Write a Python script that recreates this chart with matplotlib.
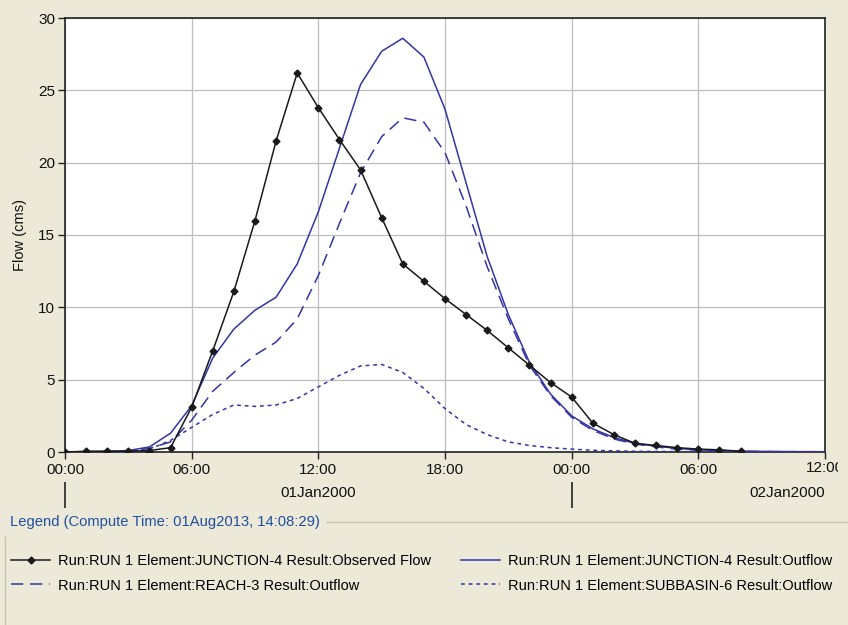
import matplotlib
matplotlib.use("Agg")
import matplotlib.pyplot as plt
from matplotlib.patches import Rectangle
from matplotlib.transforms import blended_transform_factory, Bbox
import numpy as np

# ---- data (hours from 01Jan2000 00:00) ----
obs_hours = list(range(0, 33))
obs_flow = [0.0, 0.05, 0.05, 0.05, 0.1, 0.3, 3.1, 7.0, 11.1, 16.0, 21.5, 26.2,
            23.8, 21.6, 19.5, 16.2, 13.0, 11.8, 10.6, 9.5, 8.4, 7.2, 6.0, 4.8,
            3.8, 2.0, 1.2, 0.6, 0.45, 0.3, 0.2, 0.15, 0.05]

sim_hours = list(range(0, 37))
junction_out = [0.0, 0.02, 0.05, 0.1, 0.35, 1.3, 3.2, 6.5, 8.5, 9.8, 10.7, 13.0,
                16.6, 21.0, 25.4, 27.7, 28.6, 27.3, 23.7, 18.6, 13.5, 9.5, 6.2,
                4.0, 2.5, 1.6, 1.0, 0.6, 0.4, 0.25, 0.15, 0.1, 0.06, 0.04, 0.03,
                0.02, 0.02]
reach_out = [0.0, 0.01, 0.03, 0.06, 0.25, 0.7, 2.2, 4.2, 5.5, 6.7, 7.6, 9.2,
             12.2, 15.8, 19.3, 21.8, 23.1, 22.8, 20.7, 17.0, 12.8, 9.2, 6.0,
             3.9, 2.4, 1.5, 0.9, 0.55, 0.35, 0.2, 0.12, 0.08, 0.05, 0.03, 0.02,
             0.02, 0.02]
subbasin_out = [0.0, 0.01, 0.02, 0.05, 0.2, 0.8, 1.7, 2.6, 3.25, 3.15, 3.25, 3.7,
                4.5, 5.3, 5.95, 6.05, 5.5, 4.4, 3.0, 1.9, 1.2, 0.7, 0.45, 0.3,
                0.2, 0.12, 0.08, 0.05, 0.04, 0.03, 0.02, 0.02, 0.02, 0.02, 0.02,
                0.02, 0.02]

xticks = [0, 6, 12, 18, 24, 30, 36]
xtick_labels = ["00:00", "06:00", "12:00", "18:00", "00:00", "06:00", "12:00"]
yticks = [0, 5, 10, 15, 20, 25, 30]
day_ticks = [0, 24]
day_labels = ["01Jan2000", "02Jan2000"]

series_labels = [
    "Run:RUN 1 Element:JUNCTION-4 Result:Observed Flow",
    "Run:RUN 1 Element:JUNCTION-4 Result:Outflow",
    "Run:RUN 1 Element:REACH-3 Result:Outflow",
    "Run:RUN 1 Element:SUBBASIN-6 Result:Outflow",
]
legend_title = "Legend (Compute Time: 01Aug2013, 14:08:29)"

# ---- style ----
plt.rcParams['font.family'] = ['Liberation Sans Narrow', 'Liberation Sans', 'DejaVu Sans']
BG = "#ECE9D8"
BLUE = "#3434A6"
W, H = 848, 625

fig = plt.figure(figsize=(W / 100, H / 100), dpi=100, facecolor=BG)
ax = fig.add_axes([65 / W, 1 - 452 / H, 760 / W, 434 / H])
ax.set_facecolor("white")

ax.plot(sim_hours, subbasin_out, color=BLUE, lw=1.1, ls=(0, (2.5, 2.5)),
        label=series_labels[3], zorder=3)
ax.plot(sim_hours, reach_out, color=BLUE, lw=1.1, ls=(0, (8, 4.5)),
        label=series_labels[2], zorder=3)
ax.plot(sim_hours, junction_out, color=BLUE, lw=1.1, ls="-",
        label=series_labels[1], zorder=4)
ax.plot(obs_hours, obs_flow, color="#1a1a1a", lw=1.1, marker="D", ms=3.5,
        label=series_labels[0], zorder=5)

ax.set_xlim(0, 36)
ax.set_ylim(0, 30)
ax.set_xticks(xticks)
ax.set_xticklabels(xtick_labels[:-1] + [""])
ax.set_yticks(yticks)
ax.grid(True, color="#BEBEBE", lw=0.9)
ax.set_axisbelow(True)
for s in ax.spines.values():
    s.set_color("#222222")
    s.set_linewidth(1.2)
ax.tick_params(axis="both", direction="out", length=5, width=1, color="#222222",
               labelsize=11, labelcolor="#111111", pad=2)
ax.tick_params(axis="x", pad=3)
ax.set_ylabel("Flow (cms)", fontsize=10.5, color="#111111", labelpad=8)

# right-most tick label, clipped by the panel edge
trans_xa = blended_transform_factory(ax.transData, fig.transFigure)
last = ax.text(xticks[-1], 1 - 468 / H, xtick_labels[-1], transform=trans_xa,
               ha="center", va="center", fontsize=11, color="#111111",
               clip_on=True)
last.set_clip_box(Bbox.from_extents(0, 0, 838, H))

# day axis
sec = ax.secondary_xaxis(-0.069)
sec.set_xticks(day_ticks)
sec.set_xticklabels(["", ""])
sec.spines["bottom"].set_visible(False)
sec.tick_params(axis="x", direction="out", length=19, width=1.2, color="#222222")
ax.text(12, 1 - 493 / H, day_labels[0], transform=trans_xa, ha="center", va="center",
        fontsize=11, color="#111111")
ax.text(36, 1 - 493 / H, day_labels[1], transform=trans_xa, ha="right", va="center",
        fontsize=11, color="#111111")

# legend panel
fig.patches.append(Rectangle((5 / W, -0.01), 1.0, (625 - 522) / H + 0.01,
                             transform=fig.transFigure, fill=False,
                             edgecolor="#C8C5B5", lw=1.0))
fig.text(10 / W, 1 - 522 / H, legend_title, fontsize=10.6, color="#1F4F9F",
         ha="left", va="center", backgroundcolor=BG)
handles, labs = ax.get_legend_handles_labels()
lookup = dict(zip(labs, handles))
# rows: (observed, junction) / (reach, subbasin); legend fills column-major
leg_order = [series_labels[0], series_labels[2], series_labels[1], series_labels[3]]
leg = fig.legend([lookup[l] for l in leg_order], leg_order, ncol=2, loc="upper left",
                 bbox_to_anchor=(11 / W, 1 - 554 / H), frameon=False,
                 fontsize=10.5, handlelength=2.7, handletextpad=0.55,
                 columnspacing=2.0, labelspacing=0.72, borderaxespad=0,
                 borderpad=0)

fig.savefig("out.png", dpi=100, facecolor=BG)
